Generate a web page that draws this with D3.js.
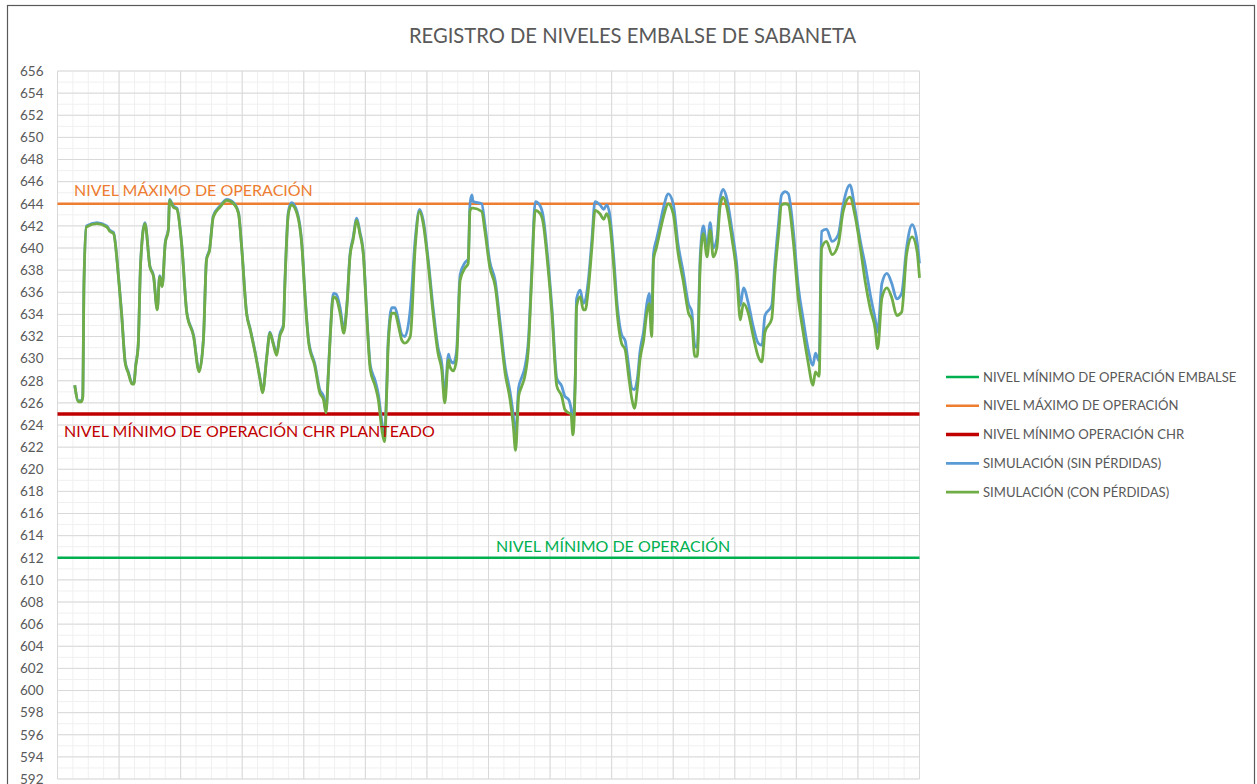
<!DOCTYPE html>
<html>
<head>
<meta charset="utf-8">
<script src="https://cdn.jsdelivr.net/npm/d3@7"></script>
<style>
  body { margin: 0; background: #fff; }
  svg { display: block; font-family: Lato, "Liberation Sans", sans-serif; }
</style>
</head>
<body>
<svg></svg>
<script>
var width = 1257;
var height = 784;

// tiempo en años desde el inicio del registro
var anios = [0.28, 0.34, 0.39, 0.41, 0.43, 0.47, 0.64, 0.80, 0.85, 0.91,
  0.99, 1.04, 1.10, 1.15, 1.21, 1.24, 1.27, 1.31, 1.35, 1.42,
  1.50, 1.56, 1.62, 1.66, 1.70, 1.75, 1.80, 1.82, 1.88, 1.94,
  2.02, 2.10, 2.21, 2.30, 2.37, 2.42, 2.47, 2.53, 2.64, 2.75,
  2.86, 2.94, 2.99, 3.07, 3.13, 3.21, 3.29, 3.33, 3.40, 3.45,
  3.50, 3.56, 3.61, 3.67, 3.69, 3.75, 3.80, 3.89, 3.97, 4.02,
  4.08, 4.18, 4.26, 4.32, 4.36, 4.40, 4.43, 4.48, 4.53, 4.59,
  4.65, 4.70, 4.75, 4.80, 4.86, 4.91, 4.97, 5.02, 5.08, 5.16,
  5.21, 5.27, 5.31, 5.35, 5.37, 5.43, 5.48, 5.54, 5.59, 5.64,
  5.73, 5.81, 5.88, 5.94, 6.02, 6.10, 6.18, 6.24, 6.29, 6.35,
  6.37, 6.43, 6.48, 6.54, 6.62, 6.67, 6.70, 6.73, 6.75, 6.89,
  6.94, 7.02, 7.11, 7.19, 7.27, 7.35, 7.40, 7.44, 7.49, 7.54,
  7.59, 7.65, 7.70, 7.76, 7.84, 7.89, 7.95, 8.03, 8.11, 8.19,
  8.24, 8.30, 8.34, 8.37, 8.41, 8.43, 8.49, 8.54, 8.57, 8.62,
  8.68, 8.73, 8.81, 8.87, 8.92, 8.97, 9.03, 9.09, 9.16, 9.22,
  9.27, 9.33, 9.37, 9.42, 9.46, 9.52, 9.57, 9.61, 9.65, 9.68,
  9.73, 9.79, 9.84, 9.92, 10.00, 10.08, 10.16, 10.25, 10.30, 10.35,
  10.39, 10.44, 10.49, 10.55, 10.60, 10.65, 10.71, 10.76, 10.81, 10.87,
  10.95, 11.03, 11.09, 11.14, 11.22, 11.30, 11.38, 11.44, 11.49, 11.60,
  11.65, 11.71, 11.76, 11.82, 11.87, 11.95, 12.03, 12.11, 12.19, 12.27,
  12.31, 12.37, 12.41, 12.49, 12.58, 12.68, 12.76, 12.87, 12.95, 13.04,
  13.12, 13.20, 13.28, 13.32, 13.39, 13.47, 13.55, 13.63, 13.71, 13.79,
  13.88, 13.96, 14.00];

var simSinPerdidas = [627.6, 626.2, 626.2, 626.6, 636.9, 642.0, 642.3, 642.0, 641.6, 641.4,
  637.5, 634.2, 629.7, 628.8, 627.8, 627.8, 629.4, 631.2, 638.7, 642.3,
  638.4, 637.5, 634.5, 637.5, 636.6, 640.5, 641.7, 644.4, 643.8, 643.6,
  640.2, 634.2, 632.1, 628.9, 631.8, 639.0, 639.9, 642.9, 643.8, 644.4,
  644.1, 643.2, 640.2, 634.2, 632.7, 630.6, 628.2, 627.0, 630.3, 632.4,
  631.5, 630.5, 632.2, 633.1, 636.4, 643.3, 644.1, 643.3, 640.3, 635.8,
  631.6, 629.5, 627.2, 626.6, 625.3, 628.9, 632.2, 635.9, 635.8, 634.6,
  632.7, 634.9, 639.4, 640.9, 642.7, 641.5, 639.4, 634.4, 629.4, 628.0,
  626.8, 624.2, 623.0, 628.0, 631.6, 634.6, 634.6, 633.4, 632.2, 632.0,
  634.5, 640.8, 643.5, 642.5, 639.0, 634.6, 631.0, 629.6, 626.8, 630.4,
  630.0, 629.6, 630.6, 637.6, 638.7, 639.0, 644.0, 644.8, 644.2, 644.0,
  642.2, 638.8, 637.0, 633.2, 629.3, 627.0, 625.0, 623.0, 627.4, 628.3,
  629.2, 631.8, 637.6, 644.2, 643.8, 642.8, 639.8, 634.6, 628.2, 627.5,
  626.6, 626.3, 625.5, 624.3, 628.6, 635.4, 636.2, 635.0, 635.2, 637.0,
  640.8, 644.2, 643.9, 643.5, 643.9, 643.0, 639.4, 634.9, 632.2, 631.6,
  629.6, 627.3, 627.2, 628.3, 630.6, 632.5, 634.9, 635.9, 633.0, 639.5,
  640.8, 642.3, 643.6, 644.9, 644.0, 640.3, 637.9, 634.9, 634.3, 631.2,
  631.0, 639.4, 642.0, 640.0, 642.3, 640.0, 640.9, 644.4, 645.3, 644.5,
  641.8, 638.6, 634.8, 636.4, 635.0, 632.9, 631.4, 631.2, 633.9, 634.8,
  638.5, 642.2, 644.8, 645.1, 644.9, 641.6, 636.6, 633.6, 630.9, 629.4,
  630.5, 629.8, 641.5, 641.7, 640.6, 641.2, 643.9, 645.7, 643.6, 640.6,
  638.4, 635.8, 633.6, 632.4, 636.8, 637.7, 636.8, 635.4, 635.9, 640.0,
  642.1, 640.6, 638.6];

var simConPerdidas = [627.6, 626.1, 626.1, 626.5, 636.8, 641.9, 642.2, 641.9, 641.5, 641.3,
  637.4, 634.1, 629.6, 628.7, 627.7, 627.7, 629.3, 631.1, 638.6, 642.2,
  638.3, 637.4, 634.4, 637.4, 636.5, 640.4, 641.6, 644.3, 643.7, 643.5,
  640.1, 634.1, 632.0, 628.8, 631.7, 638.9, 639.8, 642.8, 643.7, 644.3,
  644.0, 643.1, 640.1, 634.1, 632.6, 630.5, 628.1, 626.9, 630.2, 632.3,
  631.4, 630.3, 632.0, 632.9, 636.2, 643.1, 643.9, 643.1, 640.1, 635.6,
  631.4, 629.3, 626.9, 626.3, 625.1, 628.7, 632.0, 635.6, 635.4, 634.1,
  632.3, 634.7, 639.2, 640.7, 642.5, 641.3, 639.2, 634.1, 629.0, 627.5,
  626.3, 623.5, 622.5, 627.5, 631.1, 634.1, 634.1, 632.9, 631.7, 631.4,
  632.0, 640.1, 643.3, 642.2, 638.6, 634.1, 630.5, 629.0, 626.0, 629.9,
  629.3, 628.9, 629.9, 637.1, 638.2, 638.6, 643.4, 643.6, 643.6, 643.3,
  641.6, 638.3, 636.5, 632.6, 628.7, 626.3, 624.1, 621.7, 626.6, 627.5,
  628.4, 631.1, 637.1, 643.4, 643.1, 642.2, 639.2, 634.1, 627.5, 626.6,
  625.4, 625.1, 625.0, 623.1, 628.1, 634.7, 635.6, 634.4, 634.4, 636.2,
  640.1, 643.4, 643.1, 642.6, 643.1, 642.2, 638.6, 634.1, 631.4, 630.8,
  628.7, 626.3, 625.5, 627.5, 629.9, 631.7, 634.1, 635.0, 632.0, 638.9,
  640.1, 641.6, 642.8, 644.0, 643.1, 639.5, 637.1, 634.1, 633.5, 630.2,
  630.2, 638.6, 641.3, 639.2, 641.6, 639.2, 640.1, 643.7, 644.6, 643.7,
  641.0, 637.7, 633.5, 635.0, 634.1, 632.0, 630.2, 629.7, 632.4, 633.6,
  637.6, 641.2, 643.9, 644.0, 643.9, 640.6, 635.5, 632.4, 629.7, 627.6,
  628.8, 628.4, 640.0, 640.6, 639.4, 640.3, 643.3, 644.6, 643.0, 640.0,
  636.9, 634.5, 632.7, 630.9, 635.5, 636.4, 635.5, 633.9, 634.2, 639.4,
  641.0, 639.7, 637.3];

// niveles de referencia (m.s.n.m.)
var nivelesNombres = ["NIVEL MÍNIMO DE OPERACIÓN EMBALSE", "NIVEL MÁXIMO DE OPERACIÓN", "NIVEL MÍNIMO OPERACIÓN CHR"];
var nivelesValores = [612, 644, 625];
var nivelesEtiquetas = ["NIVEL MÍNIMO DE OPERACIÓN", "NIVEL MÁXIMO DE OPERACIÓN", "NIVEL MÍNIMO DE OPERACIÓN CHR PLANTEADO"];
var simNombres = ["SIMULACIÓN (SIN PÉRDIDAS)", "SIMULACIÓN (CON PÉRDIDAS)"];

var yTicks = d3.range(592, 657, 2);
var titulo = "REGISTRO DE NIVELES EMBALSE DE SABANETA";

var colores = {
  embalse: "#00B050",
  maximo: "#ED7D31",
  chr: "#C00000",
  sin: "#5B9BD5",
  con: "#70AD47"
};

var svg = d3.select("svg")
            .attr("width", width)
            .attr("height", height);

// marco del grafico
svg.append("rect")
   .attr("x", 7.5)
   .attr("y", 5.5)
   .attr("width", 1247)
   .attr("height", 800)
   .attr("fill", "#fff")
   .attr("stroke", "#595959")
   .attr("stroke-width", 1.2);

var xScale = d3.scaleLinear()
               .domain([0, 14])
               .range([57.5, 919.5]);

var yScale = d3.scaleLinear()
               .domain([592, 656])
               .range([779, 71]);

// cuadricula secundaria
svg.append("g")
   .selectAll("line")
   .data(d3.range(0, 14.001, 0.25))
   .enter()
   .append("line")
   .attr("x1", function(d) { return xScale(d); })
   .attr("x2", function(d) { return xScale(d); })
   .attr("y1", yScale(656))
   .attr("y2", yScale(592))
   .attr("stroke", "#f0f0f0")
   .attr("stroke-width", 1);

svg.append("g")
   .selectAll("line")
   .data(d3.range(592, 656.001, 1))
   .enter()
   .append("line")
   .attr("x1", xScale(0))
   .attr("x2", xScale(14))
   .attr("y1", function(d) { return yScale(d); })
   .attr("y2", function(d) { return yScale(d); })
   .attr("stroke", "#f0f0f0")
   .attr("stroke-width", 1);

// cuadricula principal
svg.append("g")
   .selectAll("line")
   .data(d3.range(0, 15, 1))
   .enter()
   .append("line")
   .attr("x1", function(d) { return xScale(d); })
   .attr("x2", function(d) { return xScale(d); })
   .attr("y1", yScale(656))
   .attr("y2", yScale(592))
   .attr("stroke", "#d9d9d9")
   .attr("stroke-width", 1);

svg.append("g")
   .selectAll("line")
   .data(yTicks)
   .enter()
   .append("line")
   .attr("x1", xScale(0))
   .attr("x2", xScale(14))
   .attr("y1", function(d) { return yScale(d); })
   .attr("y2", function(d) { return yScale(d); })
   .attr("stroke", "#d9d9d9")
   .attr("stroke-width", 1);

// eje y
var yAxis = svg.append("g")
   .attr("transform", "translate(" + xScale(0) + ",0)")
   .call(d3.axisLeft(yScale).tickValues(yTicks).tickSize(0).tickPadding(14));
yAxis.select(".domain").remove();
yAxis.selectAll("text")
     .attr("fill", "#595959")
     .style("font-family", "Lato, sans-serif")
     .style("font-size", "13.5px");

// niveles de referencia
var coloresNiveles = [colores.embalse, colores.maximo, colores.chr];
var anchosNiveles = [2.5, 2.5, 3.5];

svg.append("g")
   .selectAll("line")
   .data(nivelesValores)
   .enter()
   .append("line")
   .attr("x1", xScale(0))
   .attr("x2", xScale(14))
   .attr("y1", function(d) { return yScale(d); })
   .attr("y2", function(d) { return yScale(d); })
   .attr("stroke", function(d, i) { return coloresNiveles[i]; })
   .attr("stroke-width", function(d, i) { return anchosNiveles[i]; });

// simulaciones
var line = d3.line()
             .curve(d3.curveMonotoneX)
             .x(function(d) { return xScale(d[0]); })
             .y(function(d) { return yScale(d[1]); });

var series = [
  { nombre: simNombres[0], color: colores.sin, valores: d3.zip(anios, simSinPerdidas) },
  { nombre: simNombres[1], color: colores.con, valores: d3.zip(anios, simConPerdidas) }
];

svg.append("g")
   .selectAll("path")
   .data(series)
   .enter()
   .append("path")
   .attr("d", function(d) { return line(d.valores); })
   .attr("fill", "none")
   .attr("stroke", function(d) { return d.color; })
   .attr("stroke-width", 2.8)
   .attr("stroke-linejoin", "round");

// etiquetas de niveles
var etiquetasX = [496, 74, 64];
var etiquetasDy = [-6, -8, 23];

svg.append("g")
   .selectAll("text")
   .data(nivelesEtiquetas)
   .enter()
   .append("text")
   .attr("x", function(d, i) { return etiquetasX[i]; })
   .attr("y", function(d, i) { return yScale(nivelesValores[i]) + etiquetasDy[i]; })
   .attr("fill", function(d, i) { return coloresNiveles[i]; })
   .style("font-size", "16px")
   .text(function(d) { return d; });

// titulo
svg.append("text")
   .attr("x", 632.5)
   .attr("y", 43)
   .attr("text-anchor", "middle")
   .attr("fill", "#595959")
   .style("font-size", "20.2px")
   .text(titulo);

// leyenda
var leyenda = nivelesNombres.map(function(n, i) {
  return { nombre: n, color: coloresNiveles[i], ancho: anchosNiveles[i] };
}).concat(series.map(function(s) {
  return { nombre: s.nombre, color: s.color, ancho: 2.8 };
}));

var item = svg.append("g")
   .selectAll("g")
   .data(leyenda)
   .enter()
   .append("g")
   .attr("transform", function(d, i) { return "translate(946," + (377 + i * 28.8) + ")"; });

item.append("line")
    .attr("x1", 0)
    .attr("x2", 33)
    .attr("stroke", function(d) { return d.color; })
    .attr("stroke-width", function(d) { return d.ancho; });

item.append("text")
    .attr("x", 37)
    .attr("dy", "0.35em")
    .attr("fill", "#595959")
    .style("font-size", "13.1px")
    .text(function(d) { return d.nombre; });
</script>
</body>
</html>
